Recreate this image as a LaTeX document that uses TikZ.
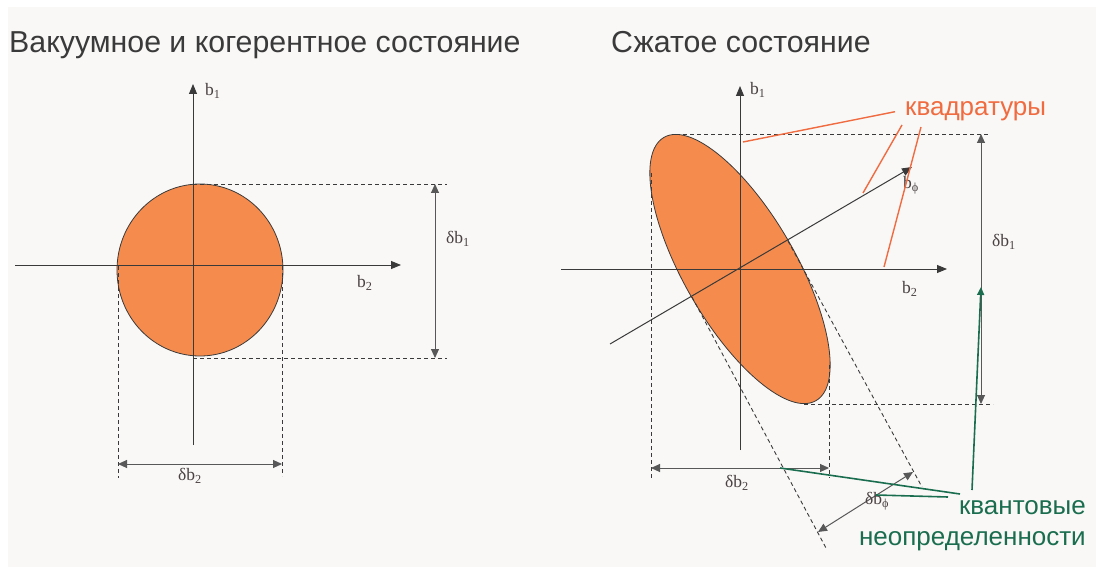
\documentclass[tikz,border=0pt]{standalone}
\usepackage{fontspec}
\setmainfont{Liberation Serif}
\newfontfamily\headfont{Liberation Sans}
\usepackage{tikz}
\usetikzlibrary{arrows.meta,positioning,calc}
\definecolor{Paper}{HTML}{F9F8F7}
\definecolor{Ink}{HTML}{3A3A3A}
\definecolor{Label}{HTML}{4A4242}
\definecolor{Blob}{HTML}{F58B4C}
\definecolor{Quad}{HTML}{F06B3F}
\definecolor{Unc}{HTML}{1A6E4F}
\tikzset{
  axis/.style={draw=Ink,line width=1pt,-{Triangle[length=10pt,width=8pt]}},
  guide/.style={draw=Ink,line width=0.9pt,dash pattern=on 4pt off 3pt},
  measure/.style={draw=Ink!85,line width=1pt,{Triangle[length=9pt,width=8pt]}-{Triangle[length=9pt,width=8pt]}},
  blob/.style={draw=Ink,line width=0.8pt,fill=Blob},
  heading/.style={font=\headfont\fontsize{30.3}{36}\selectfont,text=Ink,inner sep=0pt,anchor=base west},
  lbl/.style={font=\fontsize{17.5}{20}\selectfont,text=Label,inner sep=0pt,anchor=west},
  quadline/.style={draw=Quad,line width=1.4pt},
  quadnote/.style={font=\headfont\fontsize{26}{31}\selectfont,text=Quad,inner sep=0pt,anchor=base west},
  uncline/.style={draw=Unc,line width=1.6pt},
  uncnote/.style={font=\headfont\fontsize{26}{31}\selectfont,text=Unc,inner sep=0pt,align=right,anchor=north east}
}
\begin{document}
\begin{tikzpicture}[x=1pt,y=-1pt]
  \useasboundingbox (0,0) rectangle (1096,567);
  \fill[Paper] (8,7) rectangle (1096,567);

  \node[heading] (vactitle) at (9,53) {Вакуумное и когерентное состояние};
  \node[heading] (sqtitle) at (611,53) {Сжатое состояние};

  \coordinate (o1) at (193,265);
  \draw[blob] (200,270) ellipse [x radius=83,y radius=86];
  \draw[guide] (193,184) -- (447,184);
  \draw[guide] (193,358) -- (447,358);
  \draw[guide] (118,266) -- (118,478);
  \draw[guide] (282,266) -- (282,476);
  \draw[axis] (15,265) -- (401,265);
  \draw[axis] (193,445) -- (193,84);
  \draw[measure] (435,184) -- (435,358);
  \draw[measure] (118,464) -- (282,464);
  \node[lbl] (b1a) at (205,91) {b\textsubscript{1}};
  \node[lbl] (b2a) at (357,283) {b\textsubscript{2}};
  \node[lbl] (db1a) at (446,239) {δb\textsubscript{1}};
  \node[lbl] (db2a) at (178,476) {δb\textsubscript{2}};

  \coordinate (o2) at (740,269);
  \draw[blob,rotate around={-60:(o2)}] (o2) ellipse [x radius=152,y radius=56];
  \draw[guide] (676,134) -- (990,134);
  \draw[guide] (804,404) -- (993,404);
  \draw[guide] (651,173) -- (651,478);
  \draw[guide] (829,365) -- (829,478);
  \draw[guide] (788,241) -- (922,487);
  \draw[guide] (692,297) -- (826,548);
  \draw[axis] (561,269) -- (947,269);
  \draw[axis] (740,450) -- (740,86);
  \draw[axis] (610,344) -- (912,167);
  \draw[measure] (981,134) -- (981,404);
  \draw[measure] (651,468) -- (829,468);
  \draw[measure] (818,532) -- (913,472);
  \node[lbl] (b1b) at (750,90) {b\textsubscript{1}};
  \node[lbl] (b2b) at (902,289) {b\textsubscript{2}};
  \node[lbl] (bphi) at (903,185) {b\textsubscript{ϕ}};
  \node[lbl] (db1b) at (992,242) {δb\textsubscript{1}};
  \node[lbl] (db2b) at (725,483) {δb\textsubscript{2}};
  \node[lbl] (dbphi) at (865,501) {δb\textsubscript{ϕ}};

  \node[quadnote] (quad) at (905,116) {квадратуры};
  \coordinate (qa) at (743,142);
  \coordinate (qb) at (863,193);
  \coordinate (qc) at (884,267);
  \draw[quadline] ([xshift=-10pt]quad.west) -- (qa);
  \draw[quadline] (902,125) -- (qb);
  \draw[quadline] (921,127) -- (qc);

  \node[uncnote] (unc) at (1086,500) {квантовые\\неопределенности};
  \coordinate (ua) at (780,468);
  \coordinate (ub) at (876,495);
  \coordinate (uc) at (981,287);
  \draw[uncline] (960,494) -- (ua);
  \draw[uncline] (948,497) -- (ub);
  \draw[uncline,-{Triangle[length=8pt,width=7pt]}] (972,490) -- (uc);
\end{tikzpicture}
\end{document}
